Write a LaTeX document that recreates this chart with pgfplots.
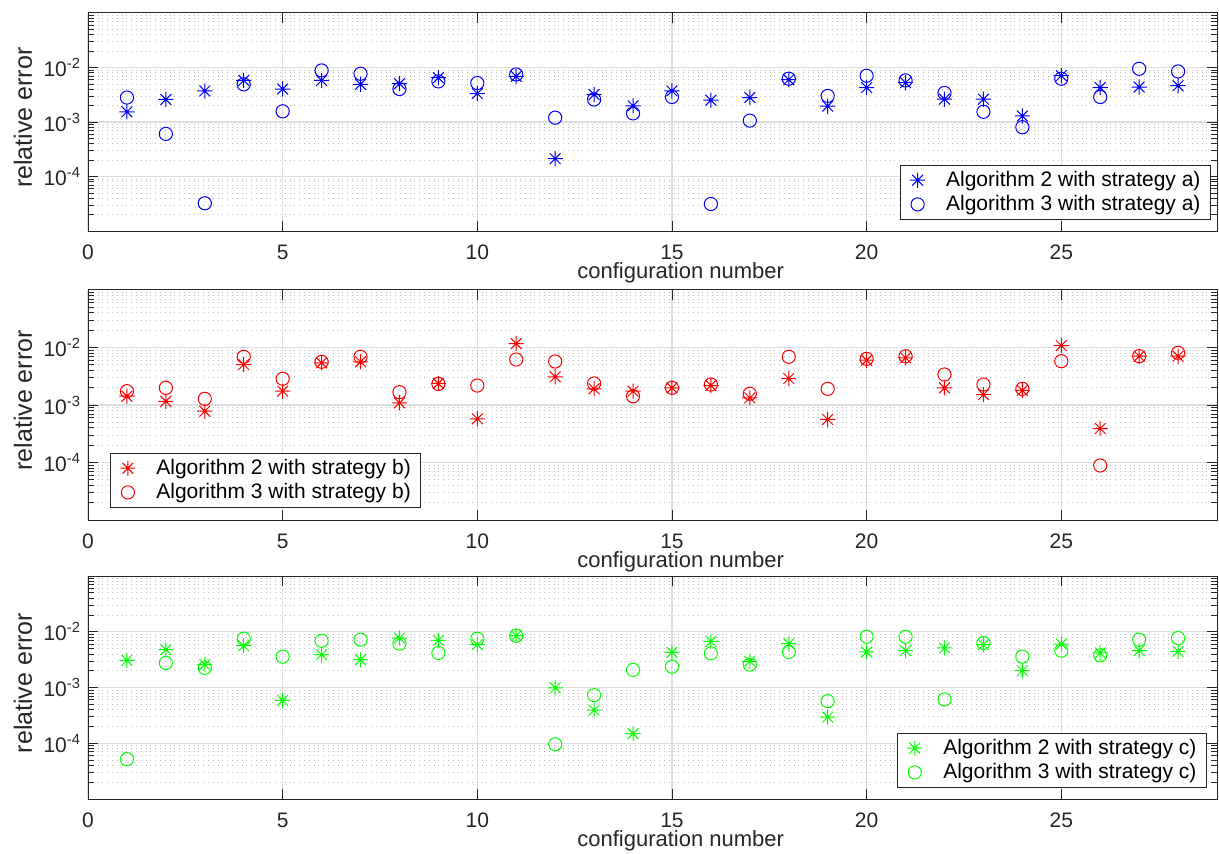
\documentclass[border=0pt]{standalone}
\usepackage{fontspec}
\setmainfont{Liberation Sans}
\usepackage{pgfplots}
\usepackage{pgfplotstable}
\pgfplotsset{compat=1.18}
\definecolor{axgray}{RGB}{38,38,38}
\definecolor{gridmaj}{RGB}{222,222,222}
\definecolor{gridmin}{RGB}{190,190,190}
\definecolor{mgreen}{RGB}{0,255,0}

\pgfdeclareplotmark{mstar}{%
 \pgfpathmoveto{\pgfqpoint{-\pgfplotmarksize}{0pt}}\pgfpathlineto{\pgfqpoint{\pgfplotmarksize}{0pt}}%
 \pgfpathmoveto{\pgfqpoint{0pt}{-\pgfplotmarksize}}\pgfpathlineto{\pgfqpoint{0pt}{\pgfplotmarksize}}%
 \pgfpathmoveto{\pgfqpoint{-.7071\pgfplotmarksize}{-.7071\pgfplotmarksize}}\pgfpathlineto{\pgfqpoint{.7071\pgfplotmarksize}{.7071\pgfplotmarksize}}%
 \pgfpathmoveto{\pgfqpoint{-.7071\pgfplotmarksize}{.7071\pgfplotmarksize}}\pgfpathlineto{\pgfqpoint{.7071\pgfplotmarksize}{-.7071\pgfplotmarksize}}%
 \pgfusepathqstroke}

\pgfplotstableread{
x a2 a3
1 1.54e-3 2.81e-3
2 2.59e-3 6.05e-4
3 3.71e-3 3.23e-5
4 5.80e-3 4.91e-3
5 4.03e-3 1.57e-3
6 5.80e-3 8.82e-3
7 4.91e-3 7.68e-3
8 5.06e-3 4.03e-3
9 6.50e-3 5.56e-3
10 3.33e-3 5.19e-3
11 6.86e-3 7.46e-3
12 2.12e-4 1.20e-3
13 3.19e-3 2.59e-3
14 1.98e-3 1.44e-3
15 3.71e-3 2.88e-3
16 2.51e-3 3.13e-5
17 2.81e-3 1.06e-3
18 5.97e-3 6.23e-3
19 1.95e-3 3.01e-3
20 4.28e-3 7.06e-3
21 5.27e-3 5.80e-3
22 2.62e-3 3.41e-3
23 2.62e-3 1.54e-3
24 1.29e-3 8.02e-4
25 7.06e-3 6.23e-3
26 4.28e-3 2.88e-3
27 4.38e-3 9.47e-3
28 4.64e-3 8.46e-3
}\dataA

\pgfplotstableread{
x a2 a3
1 1.42e-3 1.74e-3
2 1.16e-3 1.99e-3
3 7.80e-4 1.28e-3
4 5.06e-3 6.89e-3
5 1.74e-3 2.86e-3
6 5.42e-3 5.64e-3
7 5.64e-3 6.89e-3
8 1.09e-3 1.67e-3
9 2.37e-3 2.33e-3
10 5.75e-4 2.18e-3
11 1.17e-2 6.18e-3
12 3.09e-3 5.71e-3
13 1.91e-3 2.37e-3
14 1.74e-3 1.42e-3
15 1.99e-3 1.99e-3
16 2.18e-3 2.27e-3
17 1.33e-3 1.57e-3
18 2.89e-3 6.89e-3
19 5.60e-4 1.91e-3
20 6.01e-3 6.36e-3
21 6.62e-3 7.06e-3
22 1.99e-3 3.39e-3
23 1.52e-3 2.27e-3
24 1.79e-3 1.91e-3
25 1.08e-2 5.78e-3
26 3.90e-4 8.87e-5
27 7.06e-3 7.06e-3
28 7.06e-3 8.09e-3
}\dataB

\pgfplotstableread{
x a2 a3
1 3.07e-3 5.18e-5
2 4.77e-3 2.76e-3
3 2.58e-3 2.25e-3
4 5.62e-3 7.50e-3
5 5.86e-4 3.58e-3
6 3.88e-3 6.90e-3
7 3.16e-3 7.20e-3
8 7.72e-3 6.11e-3
9 7.00e-3 4.17e-3
10 5.86e-3 7.50e-3
11 8.49e-3 8.49e-3
12 9.88e-4 9.60e-5
13 3.93e-4 7.29e-4
14 1.49e-4 2.07e-3
15 4.27e-3 2.37e-3
16 6.71e-3 4.10e-3
17 2.95e-3 2.58e-3
18 6.11e-3 4.34e-3
19 2.95e-4 5.69e-4
20 4.34e-3 8.14e-3
21 4.58e-3 8.14e-3
22 5.12e-3 6.11e-4
23 5.86e-3 6.29e-3
24 2.01e-3 3.58e-3
25 6.03e-3 4.58e-3
26 4.17e-3 3.77e-3
27 4.58e-3 7.20e-3
28 4.45e-3 7.72e-3
}\dataC

\pgfplotsset{
 every axis/.append style={
  scale only axis, width=564.5pt,
  xmin=0, xmax=29, ymin=1e-5, ymax=1e-1,
  xtick={0,5,10,15,20,25}, xticklabels={0,5,10,15,20,25},
  ytick={1e-4,1e-3,1e-2},
  yticklabels={10\textsuperscript{-4},10\textsuperscript{-3},10\textsuperscript{-2}},
  minor ytick={2e-5,3e-5,4e-5,5e-5,6e-5,7e-5,8e-5,9e-5,
               2e-4,3e-4,4e-4,5e-4,6e-4,7e-4,8e-4,9e-4,
               2e-3,3e-3,4e-3,5e-3,6e-3,7e-3,8e-3,9e-3,
               2e-2,3e-2,4e-2,5e-2,6e-2,7e-2,8e-2,9e-2},
  xmajorgrids, ymajorgrids, yminorgrids,
  major grid style={gridmaj, line width=0.6pt},
  minor grid style={gridmin, dotted, line width=0.4pt},
  tick align=inside, major tick length=5pt, minor tick length=3pt,
  tick style={axgray, line width=0.4pt},
  axis line style={axgray, line width=0.5pt},
  tick label style={font=\fontsize{10.5}{12}\selectfont, text=axgray},
  xticklabel style={yshift=-3.5pt},
  ylabel={relative error},
  ylabel style={at={(rel axis cs:-0.0576,0.52)}, anchor=center, font=\fontsize{12.5}{14}\selectfont, text=axgray},
  xlabel={configuration number},
  xlabel style={at={(rel axis cs:0.525,0)}, anchor=center, yshift=-21pt, font=\fontsize{11}{13}\selectfont, text=axgray},
  legend cell align=left,
  legend image code/.code={%
    \path[draw=none,fill=none] (0cm,0cm) rectangle (0.63cm,0.01cm);
    \draw[mark repeat=2,mark phase=2,##1] plot coordinates {(0cm,0cm) (0.2cm,0cm) (0.4cm,0cm)};},
  legend style={draw=axgray, line width=0.5pt, fill=white, font=\fontsize{10.5}{12}\selectfont,
                inner xsep=3pt, inner ysep=1pt, row sep=-1pt},
 },
}
\tikzset{
 stars/.style={only marks, mark=mstar, mark size=3.8pt, line width=0.5pt},
 circs/.style={only marks, mark=o, mark size=3.3pt, line width=0.5pt},
}

\begin{document}
\begin{tikzpicture}
\begin{axis}[ymode=log, height=109pt, at={(44pt,-6.5pt)}, anchor=north west,
  legend style={at={(rel axis cs:1,0)}, anchor=south east, xshift=-3pt, yshift=5.5pt}]
\addplot[stars, blue] table[x=x,y=a2]{\dataA};
\addplot[circs, blue] table[x=x,y=a3]{\dataA};
\legend{Algorithm 2 with strategy a),Algorithm 3 with strategy a)}
\end{axis}
\begin{axis}[ymode=log, height=115pt, at={(44pt,-145pt)}, anchor=north west,
  legend style={at={(rel axis cs:0,0)}, anchor=south west, xshift=11pt, yshift=6pt}]
\addplot[stars, red] table[x=x,y=a2]{\dataB};
\addplot[circs, red] table[x=x,y=a3]{\dataB};
\legend{Algorithm 2 with strategy b),Algorithm 3 with strategy b)}
\end{axis}
\begin{axis}[ymode=log, height=111.5pt, at={(44pt,-288pt)}, anchor=north west,
  legend style={at={(rel axis cs:1,0)}, anchor=south east, xshift=-5pt, yshift=5.5pt}]
\addplot[stars, mgreen] table[x=x,y=a2]{\dataC};
\addplot[circs, mgreen] table[x=x,y=a3]{\dataC};
\legend{Algorithm 2 with strategy c),Algorithm 3 with strategy c)}
\end{axis}
\pgfresetboundingbox
\useasboundingbox (0,0) rectangle (609.5pt,-427pt);
\end{tikzpicture}
\end{document}
